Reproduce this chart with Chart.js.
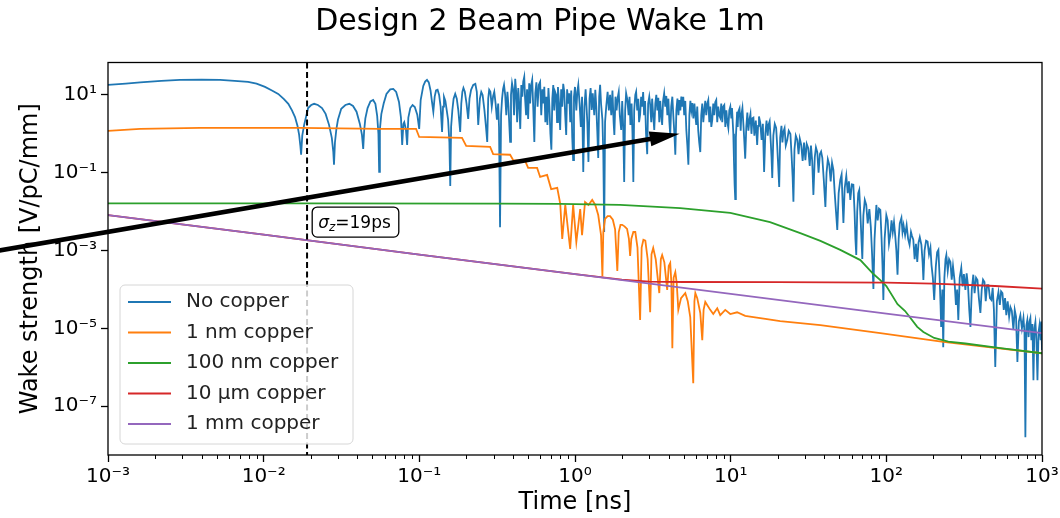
<!DOCTYPE html>
<html lang="en">
<head>
<meta charset="UTF-8">
<title>Design 2 Beam Pipe Wake 1m</title>
<script src="https://cdn.jsdelivr.net/npm/chart.js@4"></script>
<style>
  html, body { margin: 0; padding: 0; background: #fff; }
</style>
</head>
<body>
<canvas id="wake" width="1060" height="518"></canvas>
<script>
// [time (ns), wake strength (V/pC/mm)]
const noCopper = [
  [1e-3, 18], [1.3e-3, 19.5], [1.61e-3, 21], [2.2e-3, 23], [2.9e-3, 24.3], [4e-3, 24.8], [5.25e-3, 24.3],
  [6.5e-3, 23], [7.94e-3, 21.6], [9e-3, 19.5], [1.02e-2, 16.1], [1.13e-2, 13], [1.24e-2, 10.6],
  [1.35e-2, 7.8], [1.44e-2, 5.9], [1.52e-2, 4], [1.59e-2, 2.7], [1.65e-2, 1.6], [1.69e-2, 0.94],
  [1.72e-2, 0.5], [1.74e-2, 0.29],
  [1.77e-2, 0.9], [1.82e-2, 1.7], [1.93e-2, 4.6], [2.02e-2, 5.5], [2.11e-2, 5.9], [2.23e-2, 5.5],
  [2.37e-2, 4.6], [2.5e-2, 3.25], [2.63e-2, 1.7], [2.74e-2, 0.79], [2.8e-2, 0.35], [2.83e-2, 0.16],
  [2.87e-2, 0.6], [2.93e-2, 1.3], [3.0e-2, 2.3], [3.15e-2, 4.4], [3.35e-2, 5.5], [3.55e-2, 5.9],
  [3.75e-2, 5.2], [3.95e-2, 3.7], [4.15e-2, 1.8], [4.28e-2, 0.94], [4.36e-2, 0.41],
  [4.42e-2, 1.2], [4.5e-2, 2.5], [4.65e-2, 4.6], [4.85e-2, 6.8], [5.05e-2, 7.4], [5.22e-2, 5.9],
  [5.36e-2, 2.9], [5.46e-2, 1.0], [5.52e-2, 0.105],
  [5.58e-2, 1.3], [5.7e-2, 3.2], [5.9e-2, 6], [6.15e-2, 10.6], [6.5e-2, 13.9], [6.8e-2, 14.3],
  [7.1e-2, 11.9], [7.4e-2, 6.6], [7.62e-2, 2.6], [7.76e-2, 0.52], [7.9e-2, 1.8], [8.0e-2, 2.0],
  [8.2e-2, 1.3], [8.35e-2, 0.52], [8.5e-2, 2.6], [8.75e-2, 4.6], [9.05e-2, 5.5], [9.35e-2, 4.9],
  [9.7e-2, 3.1], [9.98e-2, 1.34],
  [0.102, 7.4], [0.106, 17], [0.109, 22], [0.112, 24.3], [0.115, 21], [0.118, 13], [0.121, 6],
  [0.123, 3.7], [0.1255, 9], [0.128, 13], [0.131, 13.5], [0.134, 10], [0.137, 5], [0.140, 1.12],
  [0.142, 5], [0.144, 8.9], [0.147, 7], [0.150, 4], [0.153, 2.3], [0.156, 0.6], [0.158, 0.046],
  [0.160, 1.5], [0.163, 4.1], [0.166, 8], [0.170, 10.6], [0.174, 8], [0.178, 4], [0.183, 1.12],
  [0.186, 6], [0.189, 12], [0.192, 15.1], [0.196, 12], [0.201, 6], [0.206, 2.4], [0.210, 8],
  [0.215, 13.5], [0.222, 18], [0.229, 19.2], [0.234, 12], [0.239, 1.7], [0.245, 8], [0.250, 11.9],
  [0.255, 10], [0.262, 4], [0.268, 1.5], [0.273, 0.62], [0.277, 8], [0.281, 13.5], [0.286, 12],
  [0.292, 5], [0.298, 9.4], [0.303, 12], [0.309, 6], [0.315, 2.3], [0.321, 6], [0.325, 1.5],
  [0.330, 0.0040], [0.335, 3], [0.340, 8], [0.345, 14], [0.350, 18.1], [0.356, 10], [0.362, 3],
  [0.368, 12], [0.374, 5], [0.379, 1.5], [0.383, 0.62], [0.388, 10], [0.394, 20], [0.400, 14],
  [0.406, 3], [0.413, 25.8], [0.419, 12], [0.425, 2], [0.432, 15], [0.438, 6], [0.445, 1.34],
  [0.452, 18], [0.459, 9], [0.465, 22], [0.472, 29], [0.478, 8], [0.485, 3], [0.492, 14], [0.500, 2.4],
  [0.508, 20], [0.515, 6], [0.522, 17], [0.531, 24.3], [0.54, 4], [0.548, 0.62], [0.556, 11],
  [0.565, 21], [0.575, 5], [0.585, 18], [0.597, 21.6], [0.607, 3], [0.617, 14], [0.627, 6],
  [0.635, 16.1], [0.645, 2], [0.655, 9], [0.665, 1.7], [0.675, 15], [0.685, 5], [0.695, 1.0],
  [0.705, 0.39], [0.715, 8], [0.725, 18], [0.735, 4], [0.745, 12], [0.757, 10], [0.767, 2], [0.777, 16],
  [0.79, 6], [0.803, 1.26], [0.815, 14], [0.828, 5], [0.84, 19.2], [0.853, 12], [0.865, 3],
  [0.878, 0.94], [0.89, 14], [0.904, 6], [0.918, 11], [0.932, 2], [0.946, 13], [0.96, 0.8],
  [0.973, 0.21], [0.985, 9], [1.0, 16], [1.02, 4], [1.035, 12], [1.05, 18.1], [1.07, 6], [1.09, 1.5],
  [1.11, 9], [1.13, 0.105], [1.15, 5], [1.17, 14], [1.18, 7.4], [1.2, 2], [1.22, 0.19], [1.24, 8],
  [1.26, 15], [1.28, 4.1], [1.3, 11], [1.33, 3], [1.35, 13.5], [1.37, 5], [1.39, 1.2], [1.41, 0.24],
  [1.43, 9], [1.45, 18.1], [1.47, 6], [1.5, 2.3], [1.52, 0.3], [1.54, 0.003], [1.56, 2], [1.59, 5.5],
  [1.62, 12], [1.65, 4], [1.68, 10], [1.71, 3], [1.74, 13], [1.77, 2], [1.79, 0.94], [1.82, 9],
  [1.85, 4], [1.88, 8.4], [1.91, 12], [1.94, 3], [1.98, 1.26], [2.01, 7], [2.04, 1.5], [2.07, 0.058],
  [2.1, 4], [2.13, 11], [2.17, 7.4], [2.21, 3], [2.24, 9], [2.27, 1.7], [2.31, 6], [2.34, 1],
  [2.37, 0.058], [2.4, 4], [2.44, 10], [2.47, 12], [2.51, 4], [2.55, 8], [2.58, 2], [2.62, 3.1],
  [2.66, 9], [2.7, 5], [2.74, 11.9], [2.78, 3], [2.82, 7], [2.86, 1], [2.91, 0.30], [2.95, 6], [3.0, 9],
  [3.04, 5.5], [3.09, 2], [3.13, 8], [3.18, 3], [3.23, 1.26], [3.28, 6], [3.33, 10], [3.38, 4],
  [3.43, 8.4], [3.48, 2], [3.53, 7], [3.58, 3], [3.63, 1.7], [3.68, 7], [3.74, 11], [3.8, 5],
  [3.86, 9.4], [3.92, 3], [3.98, 8], [4.04, 2], [4.09, 0.94], [4.15, 5], [4.22, 9], [4.28, 3], [4.35, 1],
  [4.41, 0.29], [4.48, 4], [4.55, 8], [4.62, 3], [4.68, 7.4], [4.75, 4], [4.82, 9], [4.89, 5],
  [4.96, 8.9], [5.03, 3], [5.11, 7], [5.19, 1.26], [5.27, 0.5], [5.35, 0.16], [5.43, 3], [5.51, 7],
  [5.59, 4], [5.67, 6.2], [5.76, 2.5], [5.85, 6], [5.93, 3], [6.01, 1.7], [6.1, 5], [6.19, 1.2],
  [6.28, 0.6], [6.38, 0.34], [6.47, 3], [6.57, 6], [6.67, 2], [6.77, 4.1], [6.87, 7], [6.97, 3],
  [7.08, 6], [7.18, 7.4], [7.29, 2], [7.4, 5], [7.51, 1.5], [7.62, 2.3], [7.73, 6], [7.85, 3],
  [7.96, 6.5], [8.08, 7.4], [8.2, 2], [8.32, 5], [8.44, 3], [8.57, 2.6], [8.7, 6], [8.83, 2], [8.96, 5],
  [9.1, 5.5], [9.24, 1.5], [9.38, 4], [9.52, 2], [9.66, 1.42], [9.8, 4], [9.95, 5], [10.1, 2.5],
  [10.2, 4.6], [10.4, 1], [10.5, 0.2], [10.6, 0.05], [10.7, 0.021], [10.8, 0.8], [11.0, 3.7],
  [11.1, 1.5], [11.2, 3.7], [11.4, 4.5], [11.6, 1.2], [11.7, 3], [11.9, 4.6], [12.1, 1.5], [12.25, 0.6],
  [12.4, 0.23], [12.6, 1.5], [12.8, 3.5], [13.0, 1.2], [13.2, 2.3], [13.4, 3.2], [13.6, 1], [13.8, 2.5],
  [14.0, 2.6], [14.2, 0.9], [14.5, 2.2], [14.8, 0.52], [15.0, 1.6], [15.2, 2.8], [15.5, 1.9],
  [15.8, 0.7], [16.1, 1.8], [16.4, 0.105], [16.7, 1], [17.0, 2.2], [17.3, 0.9], [17.5, 1.7], [17.8, 2.1],
  [18.1, 0.6], [18.3, 0.25], [18.5, 0.073], [18.8, 0.9], [19.2, 1.8], [19.6, 1.42], [19.9, 0.5],
  [20.2, 0.15], [20.5, 0.043], [20.8, 0.8], [21.2, 1.6], [21.5, 0.6], [21.8, 1.12], [22.2, 1.4],
  [22.6, 0.5], [23.1, 0.70], [23.6, 1.2], [24.2, 0.99], [24.6, 0.3], [25.0, 0.08], [25.3, 0.018],
  [25.7, 0.4], [26.2, 0.9], [26.8, 0.70], [27.3, 0.3], [27.8, 0.75], [28.4, 0.52], [29, 0.2], [29.6, 0.6],
  [30.2, 0.21], [30.8, 0.55], [31.5, 0.43], [32.2, 0.15], [32.8, 0.5], [33.4, 0.2], [34.0, 0.027],
  [34.7, 0.25], [35.3, 0.45], [36.0, 0.34], [36.7, 0.1], [37.4, 0.3], [38.1, 0.35], [38.8, 0.24],
  [39.6, 0.07], [40.6, 0.0132], [41.3, 0.1], [42.1, 0.22], [43.0, 0.16], [43.9, 0.06], [44.8, 0.18],
  [45.7, 0.118], [46.6, 0.03], [47.5, 0.01], [48.4, 0.0034], [49.4, 0.03], [50.6, 0.065], [51.6, 0.09],
  [52.3, 0.02], [53.0, 0.0051], [54.0, 0.04], [55.3, 0.083], [56.5, 0.03], [57.5, 0.06], [58.7, 0.020],
  [60.0, 0.05], [61.4, 0.049], [62.5, 0.01], [63.3, 0.002], [64.1, 7.7e-4], [65, 0.01], [66, 0.03],
  [67.0, 0.036], [68.2, 0.008], [69.2, 0.002], [70.1, 6.1e-4], [71.2, 0.008], [72.7, 0.02],
  [74.3, 0.0149], [75.9, 0.005], [77.8, 0.0117], [79.5, 0.004], [81, 0.0008], [82.6, 1.03e-4],
  [84, 0.002], [86.3, 0.0149], [88, 0.006], [89.7, 0.012], [91.5, 0.0111], [93.2, 0.002], [94.5, 4e-4],
  [95.7, 5.4e-5], [97.5, 0.002], [100, 0.0082], [102, 0.006], [104, 0.0015], [106, 0.0025],
  [108, 0.006], [110, 0.003], [112, 0.0054], [114, 0.0025], [116, 0.001], [118, 2.4e-4], [120, 0.002],
  [122, 0.005], [125, 0.0069], [127, 0.003], [129, 0.0045], [132, 0.0025], [135, 0.0045], [138, 0.002],
  [141, 0.0014], [144, 0.003], [146, 0.0024], [149, 0.0019], [152, 0.0006], [155, 0.0015],
  [158, 5.1e-4], [161, 0.0016], [164, 0.0022], [168, 0.0014], [171, 0.0005], [173, 1.75e-4],
  [176, 0.001], [180, 0.0018], [184, 0.0017], [188, 0.0008], [192, 0.0012], [195, 4.3e-4], [199, 2e-4],
  [203, 5.4e-5], [208, 4e-4], [212, 0.0009], [216, 0.00104], [220, 2e-4], [223, 4e-5], [225, 1.09e-5],
  [229, 1e-4], [232, 3.3e-6], [236, 2e-4], [240, 0.0006], [243, 7.7e-4], [248, 3e-4], [253, 6e-4],
  [258, 5.1e-4], [263, 1.8e-4], [268, 4e-4], [274, 1.75e-4], [280, 4e-5], [285, 1e-4], [290, 1.64e-5],
  [296, 2e-4], [303, 3.6e-4], [309, 1.2e-4], [315, 2.5e-4], [322, 9.7e-5], [328, 2.6e-4], [335, 1.2e-4],
  [341, 3e-5], [347, 1.09e-5], [354, 1e-4], [362, 2.4e-4], [369, 8e-5], [377, 2e-4], [385, 1.75e-4],
  [393, 6e-5], [402, 2.5e-5], [410, 1e-4], [418, 1.8e-4], [427, 1.56e-4], [435, 5e-5], [444, 1.3e-4],
  [453, 1.3e-4], [463, 6e-5], [473, 5.4e-5], [482, 1.1e-4], [491, 3e-5], [501, 1.02e-6], [513, 5e-5],
  [525, 8.6e-5], [536, 4e-5], [546, 9e-5], [557, 8.1e-5], [568, 3e-5], [579, 6e-5], [590, 2.2e-5],
  [602, 5e-5], [615, 2e-5], [627, 3.5e-5], [640, 2.8e-5], [655, 9.1e-6], [668, 3e-5], [681, 2e-5],
  [695, 1.37e-6], [710, 1.5e-5], [726, 2.2e-5], [743, 1e-5], [760, 1.85e-5], [772, 8e-6], [782, 1.6e-8],
  [794, 1.2e-5], [805, 1.64e-5], [820, 6e-6], [831, 1.5e-5], [842, 1.85e-5], [855, 5e-6], [868, 1.3e-5],
  [881, 4.7e-7], [894, 1e-5], [907, 1.46e-5], [921, 5e-6], [935, 4.7e-7], [950, 8e-6], [964, 1.22e-5],
  [980, 5e-6], [990, 1.5e-5], [1000, 2.8e-6]
];
const copper1nm = [
  [1e-3, 1.19], [1.61e-3, 1.34], [3.9e-3, 1.42], [1.71e-2, 1.42], [5.6e-2, 1.34], [0.0953, 1.34],
  [0.0998, 0.83], [0.188, 0.79], [0.200, 0.49], [0.285, 0.46], [0.298, 0.30], [0.383, 0.29],
  [0.401, 0.21], [0.479, 0.20], [0.500, 0.133], [0.571, 0.133], [0.597, 0.078], [0.662, 0.088],
  [0.703, 0.038], [0.769, 0.041], [0.804, 0.0158], [0.828, 0.0020], [0.866, 0.0149], [0.931, 0.0011],
  [0.973, 0.0149], [1.02, 0.00166], [1.08, 0.0117], [1.11, 0.0025], [1.16, 0.0177], [1.22, 0.0149],
  [1.29, 0.020], [1.35, 0.0149], [1.41, 0.0082], [1.47, 0.0025], [1.50, 2.2e-4], [1.52, 0.003],
  [1.56, 0.0065], [1.62, 0.0077], [1.68, 0.0077], [1.75, 0.0062], [1.81, 0.0035], [1.87, 3.0e-4],
  [1.91, 0.003], [1.96, 0.0046], [2.01, 0.0046], [2.08, 0.0042], [2.16, 0.0036], [2.22, 0.002],
  [2.26, 7.3e-4], [2.3, 0.002], [2.37, 0.0030], [2.44, 0.0030], [2.52, 0.0012], [2.62, 1.64e-5],
  [2.68, 0.0012], [2.75, 0.0019], [2.83, 0.0018], [2.93, 6e-4], [3.04, 2.6e-5], [3.1, 8e-4],
  [3.18, 0.00117], [3.3, 6e-4], [3.48, 8.1e-5], [3.56, 6e-4], [3.63, 7.7e-4], [3.75, 5e-4],
  [3.91, 9.7e-5], [4.0, 4e-4], [4.09, 4.8e-4], [4.16, 1.5e-4], [4.22, 3.1e-6], [4.3, 2e-4],
  [4.41, 2.8e-4], [4.5, 1.5e-4], [4.61, 3.0e-5], [4.8, 6e-5], [5.11, 8.1e-5], [5.3, 5e-5],
  [5.50, 1.96e-5], [5.75, 3.9e-7], [5.85, 5e-5], [5.93, 8.1e-5], [6.1, 6e-5], [6.38, 2.5e-5],
  [6.57, 5.0e-6], [6.7, 3e-5], [6.87, 4.8e-5], [7.39, 3.0e-5], [7.73, 2.34e-5], [8.20, 3.3e-5],
  [8.57, 2.2e-5], [9.23, 3.0e-5], [9.94, 2.34e-5], [11.0, 2.6e-5], [12.4, 2.1e-5], [14.0, 1.96e-5],
  [16.7, 1.75e-5], [20.8, 1.55e-5], [37.7, 1.22e-5], [91.5, 7.6e-6], [232, 4.5e-6], [1000, 2.3e-6]
];
const copper100nm = [
  [1e-3, 0.0164], [1.71e-2, 0.0164], [0.330, 0.016], [0.80, 0.0158], [1.95, 0.0149], [4.74, 0.0124],
  [9.94, 0.0093], [17.9, 0.0054], [28.0, 0.0028], [37.7, 0.00177], [50.6, 0.00104], [68.1, 5.7e-4],
  [82.6, 2.5e-4], [91.5, 1.75e-4], [100, 1.23e-4], [118, 4.2e-5], [132, 2.8e-5], [158, 1.1e-5],
  [173, 8.1e-6], [203, 5.7e-6], [250, 4.6e-6], [322, 4.1e-6], [541, 3.1e-6], [1000, 2.3e-6]
];
const copper10um = [
  [1e-3, 8.2e-3], [1e-2, 2.57e-3], [0.1, 7.9e-4], [1, 2.47e-4], [2, 1.8e-4], [3, 1.6e-4], [5, 1.56e-4],
  [20, 1.55e-4], [100, 1.5e-4], [200, 1.42e-4], [500, 1.23e-4], [1000, 1.05e-4]
];
const copper1mm = [
  [1e-3, 8.2e-3], [1e-2, 2.57e-3], [0.1, 7.9e-4], [1, 2.47e-4], [10, 7.7e-5], [100, 2.4e-5], [1000, 7.6e-6]
];

const seriesLabels = ['No copper', '1 nm copper', '100 nm copper', '10 µm copper', '1 mm copper'];
const seriesColors = ['#1f77b4', '#ff7f0e', '#2ca02c', '#d62728', '#9467bd'];
const seriesData = [noCopper, copper1nm, copper100nm, copper10um, copper1mm];
const xTicks = [1e-3, 1e-2, 1e-1, 1e0, 1e1, 1e2, 1e3];
const yTicks = [1e-7, 1e-5, 1e-3, 1e-1, 1e1];
const titleText = 'Design 2 Beam Pipe Wake 1m';
const sigmaZ = 0.019;            // ns, bunch length marker
const noteAt = [0.0205, 0.0054]; // left edge / middle of the sigma_z box
const arrowFrom = [2e-4, 1e-3];
const arrowTo = [4.7, 1.0];

const FONT = "'DejaVu Sans', sans-serif";
const SUP = {'-': '\u207B', '0': '\u2070', '1': '\u00B9', '2': '\u00B2', '3': '\u00B3',
  '4': '\u2074', '5': '\u2075', '6': '\u2076', '7': '\u2077', '8': '\u2078', '9': '\u2079'};
function powLabel(v) {
  const e = String(Math.round(Math.log10(v)));
  return '10' + e.split('').map(c => SUP[c]).join('');
}

// title, frame, minor ticks, sigma_z marker, arrow and legend box
const extras = {
  id: 'extras',
  afterDatasetsDraw(chart) {
    const {ctx, chartArea: a, scales: {x, y}} = chart;
    ctx.save();

    ctx.fillStyle = '#000';
    ctx.font = '30px ' + FONT;
    ctx.textAlign = 'center';
    ctx.textBaseline = 'middle';
    ctx.fillText(titleText, 540, 22);
    ctx.textAlign = 'left';

    ctx.strokeStyle = '#000';
    ctx.lineWidth = 1.3;
    ctx.strokeRect(a.left, a.top, a.right - a.left, a.bottom - a.top);

    ctx.lineWidth = 1;
    ctx.beginPath();
    for (let d = -3; d < 3; d++) {
      for (let k = 2; k < 10; k++) {
        const px = Math.round(x.getPixelForValue(k * Math.pow(10, d))) + 0.5;
        ctx.moveTo(px, a.bottom);
        ctx.lineTo(px, a.bottom + 4);
      }
    }
    ctx.stroke();

    // dashed sigma_z line
    const sx = x.getPixelForValue(sigmaZ);
    ctx.setLineDash([6, 3.5]);
    ctx.lineWidth = 2;
    ctx.beginPath();
    ctx.moveTo(sx, a.top);
    ctx.lineTo(sx, a.bottom);
    ctx.stroke();
    ctx.setLineDash([]);

    // sigma_z text box
    const bx = x.getPixelForValue(noteAt[0]);
    const by = y.getPixelForValue(noteAt[1]);
    ctx.font = 'italic 17px ' + FONT;
    const wSig = ctx.measureText('\u03C3').width;
    ctx.font = 'italic 12px ' + FONT;
    const wZ = ctx.measureText('z').width;
    ctx.font = '17px ' + FONT;
    const wRest = ctx.measureText('=19ps').width;
    const tw = wSig + wZ + wRest;
    const bw = tw + 14, bh = 30;
    ctx.beginPath();
    ctx.roundRect(bx, by - bh / 2, bw, bh, 5);
    ctx.fillStyle = '#fff';
    ctx.fill();
    ctx.lineWidth = 1.3;
    ctx.stroke();
    ctx.fillStyle = '#000';
    ctx.textBaseline = 'alphabetic';
    let tx = bx + 6;
    const base = by + 6;
    ctx.font = 'italic 17px ' + FONT;
    ctx.fillText('\u03C3', tx, base);
    tx += wSig;
    ctx.font = 'italic 12px ' + FONT;
    ctx.fillText('z', tx, base + 3);
    tx += wZ;
    ctx.font = '17px ' + FONT;
    ctx.fillText('=19ps', tx, base);

    // arrow
    const p0 = [x.getPixelForValue(arrowFrom[0]), y.getPixelForValue(arrowFrom[1])];
    const p1 = [x.getPixelForValue(arrowTo[0]), y.getPixelForValue(arrowTo[1])];
    const dx = p1[0] - p0[0], dy = p1[1] - p0[1];
    const len = Math.hypot(dx, dy);
    const ux = dx / len, uy = dy / len, nx = -uy, ny = ux;
    const headL = 30, headW = 7.5, shaft = 2.3;
    const hb = [p1[0] - ux * headL, p1[1] - uy * headL];
    ctx.fillStyle = '#000';
    ctx.beginPath();
    ctx.moveTo(p0[0] + nx * shaft, p0[1] + ny * shaft);
    ctx.lineTo(hb[0] + nx * shaft, hb[1] + ny * shaft);
    ctx.lineTo(hb[0] + nx * headW, hb[1] + ny * headW);
    ctx.lineTo(p1[0], p1[1]);
    ctx.lineTo(hb[0] - nx * headW, hb[1] - ny * headW);
    ctx.lineTo(hb[0] - nx * shaft, hb[1] - ny * shaft);
    ctx.lineTo(p0[0] - nx * shaft, p0[1] - ny * shaft);
    ctx.closePath();
    ctx.fill();

    // legend
    const lw = 233, lh = 159;
    const lx = a.left + 12, ly = a.bottom - 11 - lh;
    ctx.beginPath();
    ctx.roundRect(lx, ly, lw, lh, 5);
    ctx.fillStyle = 'rgba(255,255,255,0.8)';
    ctx.fill();
    ctx.strokeStyle = '#d6d6d6';
    ctx.lineWidth = 1;
    ctx.stroke();
    ctx.font = '20px ' + FONT;
    ctx.textBaseline = 'middle';
    chart.data.datasets.forEach((ds, i) => {
      const ry = ly + 17 + i * 30.5;
      ctx.strokeStyle = ds.borderColor;
      ctx.lineWidth = 1.8;
      ctx.beginPath();
      ctx.moveTo(lx + 8, ry);
      ctx.lineTo(lx + 51, ry);
      ctx.stroke();
      ctx.fillStyle = '#222';
      ctx.fillText(ds.label, lx + 66, ry);
    });

    ctx.restore();
  }
};

new Chart(document.getElementById('wake'), {
  type: 'scatter',
  data: {
    datasets: seriesData.map((pts, i) => ({
      label: seriesLabels[i],
      data: pts.map(p => ({x: p[0], y: p[1]})),
      borderColor: seriesColors[i],
      backgroundColor: seriesColors[i],
      borderWidth: 1.8,
      pointRadius: 0,
      showLine: true,
      tension: 0,
      order: seriesData.length - i
    }))
  },
  options: {
    responsive: false,
    animation: false,
    devicePixelRatio: 1,
    events: [],
    layout: { padding: { left: 0, right: 18, top: 62.5, bottom: 0 } },
    plugins: {
      legend: { display: false },
      tooltip: { enabled: false },
      title: { display: false }
    },
    scales: {
      x: {
        type: 'logarithmic',
        position: 'bottom',
        min: 1e-3,
        max: 1e3,
        afterBuildTicks: s => { s.ticks = xTicks.map(v => ({ value: v })); },
        afterFit: s => { s.height = 63; s.paddingLeft = 0; s.paddingRight = 0; },
        ticks: {
          callback: v => powLabel(v),
          color: '#000',
          font: { family: FONT, size: 20 },
          maxRotation: 0,
          autoSkip: false,
          padding: 3
        },
        grid: { drawOnChartArea: false, drawTicks: true, tickLength: 7, tickColor: '#000', tickWidth: 1.3 },
        border: { display: false },
        title: {
          display: true,
          text: 'Time [ns]',
          color: '#000',
          font: { family: FONT, size: 24 },
          padding: { top: 0, bottom: 1 }
        }
      },
      y: {
        type: 'logarithmic',
        position: 'left',
        min: 5.6e-9,
        max: 68,
        afterBuildTicks: s => { s.ticks = yTicks.map(v => ({ value: v })); },
        afterFit: s => { s.width = 108; s.paddingTop = 0; s.paddingBottom = 0; },
        ticks: {
          callback: v => powLabel(v),
          color: '#000',
          font: { family: FONT, size: 20 },
          padding: 4
        },
        grid: { drawOnChartArea: false, drawTicks: true, tickLength: 7, tickColor: '#000', tickWidth: 1.3 },
        border: { display: false },
        title: {
          display: true,
          text: 'Wake strength [V/pC/mm]',
          color: '#000',
          font: { family: FONT, size: 24 },
          padding: { top: 16, bottom: 0 }
        }
      }
    }
  },
  plugins: [extras]
});
</script>
</body>
</html>
